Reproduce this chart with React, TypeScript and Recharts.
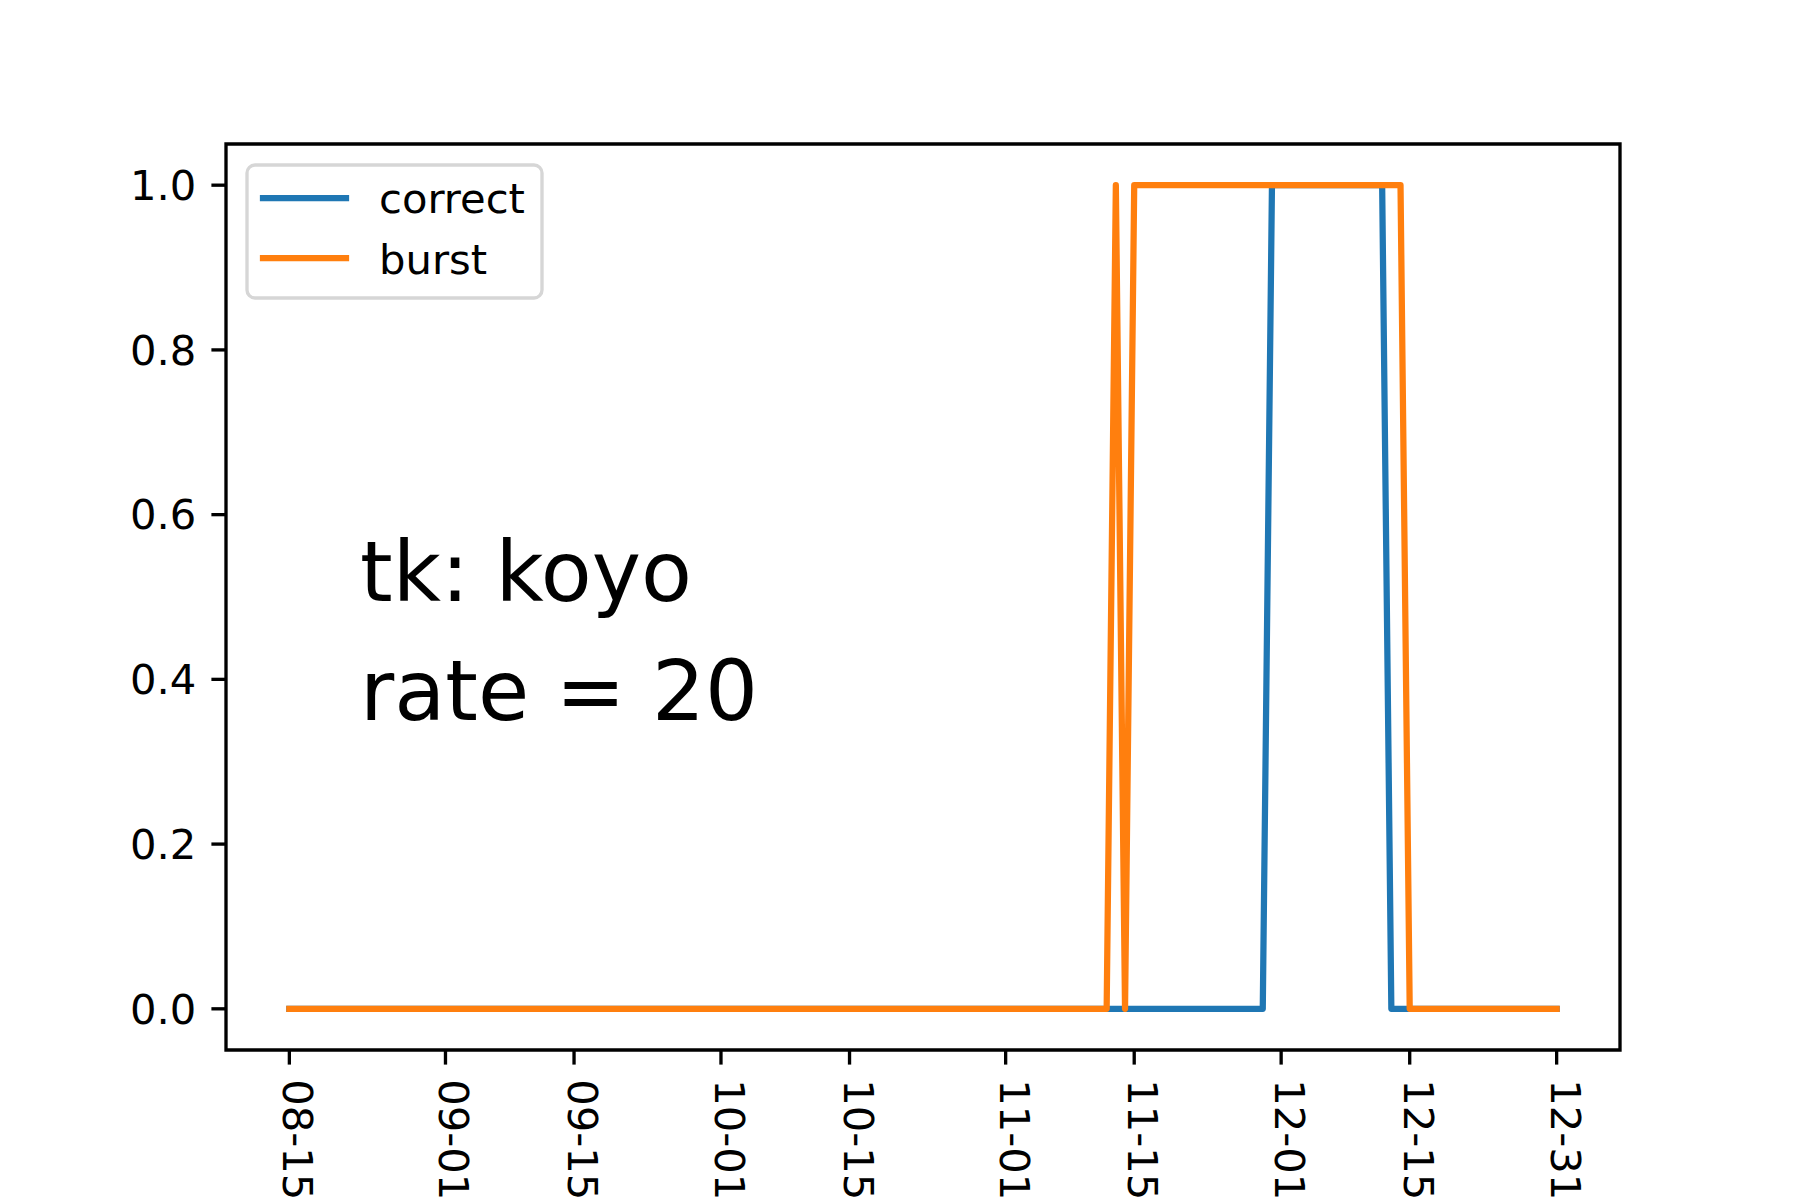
import React from 'react';
import {
  LineChart,
  Line,
  XAxis,
  YAxis,
  ReferenceArea
} from 'recharts';

// daily values from 08-15 to 12-31 (139 days), one line per month
const correct = [
  // Aug 15-31
  0,0,0,0,0,0,0,0,0,0, 0,0,0,0,0,0,0,
  // Sep
  0,0,0,0,0,0,0,0,0,0, 0,0,0,0,0,0,0,0,0,0, 0,0,0,0,0,0,0,0,0,0,
  // Oct
  0,0,0,0,0,0,0,0,0,0, 0,0,0,0,0,0,0,0,0,0, 0,0,0,0,0,0,0,0,0,0, 0,
  // Nov
  0,0,0,0,0,0,0,0,0,0, 0,0,0,0,0,0,0,0,0,0, 0,0,0,0,0,0,0,0,0,1,
  // Dec
  1,1,1,1,1,1,1,1,1,1, 1,1,0,0,0,0,0,0,0,0, 0,0,0,0,0,0,0,0,0,0, 0,
];

const burst = [
  // Aug 15-31
  0,0,0,0,0,0,0,0,0,0, 0,0,0,0,0,0,0,
  // Sep
  0,0,0,0,0,0,0,0,0,0, 0,0,0,0,0,0,0,0,0,0, 0,0,0,0,0,0,0,0,0,0,
  // Oct
  0,0,0,0,0,0,0,0,0,0, 0,0,0,0,0,0,0,0,0,0, 0,0,0,0,0,0,0,0,0,0, 0,
  // Nov
  0,0,0,0,0,0,0,0,0,0, 0,0,1,0,1,1,1,1,1,1, 1,1,1,1,1,1,1,1,1,1,
  // Dec
  1,1,1,1,1,1,1,1,1,1, 1,1,1,1,0,0,0,0,0,0, 0,0,0,0,0,0,0,0,0,0, 0,
];

const seriesNames = ['correct', 'burst'];
const seriesColors = ['#1f77b4', '#ff7f0e'];

// tick positions as day offsets from 08-15
const tickDays = [0, 17, 31, 47, 61, 78, 92, 108, 122, 138];
const tickLabels = ['08-15', '09-01', '09-15', '10-01', '10-15', '11-01', '11-15', '12-01', '12-15', '12-31'];
const yTicks = [0, 0.2, 0.4, 0.6, 0.8, 1.0];

const annotation = ['tk: koyo', 'rate = 20'];

const data = correct.map((v, i) => ({ day: i, correct: v, burst: burst[i] }));

const FONT = 'DejaVu Sans';
const TICK_FONT = 41.7;
const LINE_W = 6.25;
const SPINE_W = 3.33;

const xMin = -0.05 * 138;
const xMax = 138 + 0.05 * 138;

const DateTick = (props: any) => {
  const { x, y, payload } = props;
  const label = tickLabels[tickDays.indexOf(payload.value)];
  return (
    <g transform={`translate(${x - 6},${y})`}>
      <text
        transform="rotate(90)"
        x={0}
        y={0}
        textAnchor="start"
        fill="#000"
        fontSize={TICK_FONT}
        fontFamily={FONT}
      >
        {label}
      </text>
    </g>
  );
};

const Overlay = () => (
  <svg
    width={1800}
    height={1200}
    style={{ position: 'absolute', left: 0, top: 0, pointerEvents: 'none' }}
  >
    <rect
      x={247}
      y={165}
      width={295}
      height={133}
      rx={8}
      fill="rgba(255,255,255,0.8)"
      stroke="#d6d6d6"
      strokeWidth={SPINE_W}
    />
    {seriesNames.map((name, i) => (
      <g key={name}>
        <line
          x1={263}
          x2={346}
          y1={198 + i * 60}
          y2={198 + i * 60}
          stroke={seriesColors[i]}
          strokeWidth={LINE_W}
          strokeLinecap="square"
        />
        <text x={379} y={213 + i * 61} fontSize={TICK_FONT} fontFamily={FONT} fill="#000">
          {name}
        </text>
      </g>
    ))}
    {annotation.map((t, i) => (
      <text key={t} x={360} y={601 + i * 119} fontSize={83.3} fontFamily={FONT} fill="#000">
        {t}
      </text>
    ))}
  </svg>
);

export default function App() {
  return (
    <div
      style={{
        position: 'absolute',
        left: 0,
        top: 0,
        width: 1800,
        height: 1200,
        background: '#fff',
        fontFamily: FONT
      }}
    >
      <LineChart
        width={1800}
        height={1200}
        data={data}
        margin={{ top: 144, right: 180, bottom: 0, left: 0 }}
      >
        <XAxis
          dataKey="day"
          type="number"
          domain={[xMin, xMax]}
          allowDataOverflow
          ticks={tickDays}
          interval={0}
          height={150}
          axisLine={false}
          tickLine={{ stroke: '#000', strokeWidth: SPINE_W }}
          tickSize={14.6}
          tickMargin={14.6}
          tick={<DateTick />}
        />
        <YAxis
          type="number"
          domain={[-0.05, 1.05]}
          allowDataOverflow
          ticks={yTicks}
          interval={0}
          width={226}
          axisLine={false}
          tickLine={{ stroke: '#000', strokeWidth: SPINE_W }}
          tickSize={14.6}
          tickMargin={15}
          tickFormatter={(v: number) => v.toFixed(1)}
          tick={{ fill: '#000', fontSize: TICK_FONT, fontFamily: FONT }}
        />
        {seriesNames.map((key, i) => (
          <Line
            key={key}
            type="linear"
            dataKey={key}
            stroke={seriesColors[i]}
            strokeWidth={LINE_W}
            strokeLinejoin="round"
            strokeLinecap="square"
            dot={false}
            activeDot={false}
            isAnimationActive={false}
          />
        ))}
        <ReferenceArea
          x1={xMin}
          x2={xMax}
          y1={-0.05}
          y2={1.05}
          fill="none"
          fillOpacity={0}
          stroke="#000"
          strokeWidth={SPINE_W}
          ifOverflow="visible"
        />
      </LineChart>
      <Overlay />
    </div>
  );
}
